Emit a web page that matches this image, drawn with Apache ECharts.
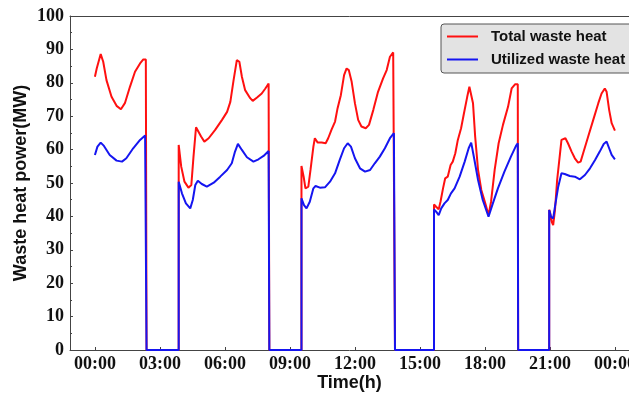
<!DOCTYPE html>
<html>
<head>
<meta charset="utf-8">
<script src="https://cdn.jsdelivr.net/npm/echarts@6/dist/echarts.min.js"></script>
<style>
  html, body { margin: 0; padding: 0; background: #fff; }
  #heat { width: 629px; height: 395px; }
</style>
</head>
<body>
<div id="heat"></div>
<script>
// time in minutes from 00:00, power in MW
var totalTime = [0, 5, 16, 23, 32, 46, 60, 72, 83, 97, 111, 125, 134, 141, 143,
    143, 232,
    232, 239, 248, 259, 267, 273, 280, 285, 294, 303, 315, 333, 352, 366, 375, 384, 393, 400, 407, 416, 430, 437, 449, 462, 472, 481, 483,
    483, 572,
    572, 578, 583, 591, 597, 605, 609, 617, 628, 639, 646, 655, 665, 672, 681, 690, 697, 703, 711, 720, 729, 738, 750, 759, 771, 784, 798, 808, 817, 826, 829, 831,
    831, 939,
    939, 945, 952, 957, 964, 970, 977, 985, 991, 998, 1005, 1014, 1022, 1031, 1037, 1042, 1047, 1053, 1061, 1070, 1081, 1090, 1097, 1107, 1118, 1130, 1144, 1154, 1164, 1171, 1172,
    1172, 1258,
    1258, 1260, 1265, 1269, 1274, 1280, 1288, 1292, 1297, 1303, 1310, 1320, 1329, 1338, 1345, 1352, 1366, 1380, 1394, 1403, 1412, 1417, 1424, 1431, 1440];
var totalValue = [81.8, 84.3, 88.6, 86.3, 80.8, 75.8, 73.1, 72.1, 73.9, 78.8, 83.3, 85.8, 87.0, 87.0, 87.0,
    0, 0,
    61.4, 54.9, 50.4, 48.6, 49.4, 57.9, 66.7, 66.4, 63.9, 62.4, 63.4, 65.9, 68.9, 71.3, 74.3, 80.8, 86.8, 86.3, 81.8, 77.8, 75.4, 74.6, 75.6, 76.8, 78.3, 79.8, 79.8,
    0, 0,
    55.1, 51.9, 48.4, 48.9, 53.9, 60.9, 63.4, 62.1, 62.1, 61.9, 63.4, 65.9, 68.4, 72.4, 76.3, 82.3, 84.3, 83.8, 80.3, 73.9, 68.9, 66.9, 66.4, 67.4, 71.9, 77.3, 81.3, 83.8, 87.8, 89.1, 89.1, 89.1,
    0, 0,
    43.6, 42.9, 42.1, 44.4, 48.4, 51.4, 51.9, 55.4, 56.4, 58.9, 62.9, 66.4, 70.9, 75.8, 78.8, 79.3, 73.9, 63.9, 53.9, 47.9, 43.9, 40.4, 44.4, 53.9, 61.9, 67.4, 72.8, 78.3, 79.6, 79.6, 79.6,
    0, 0,
    42.0, 41.4, 38.4, 37.4, 41.9, 50.9, 58.9, 62.9, 62.4, 63.4, 61.9, 59.4, 57.4, 56.1, 56.4, 58.9, 63.9, 68.9, 73.9, 76.8, 78.3, 77.3, 71.9, 67.9, 65.7];

var usedTime = [0, 7, 16, 25, 41, 60, 75, 87, 106, 125, 139, 143,
    143, 232,
    232, 241, 252, 264, 271, 278, 285, 296, 310, 329, 347, 366, 379, 388, 396, 407, 421, 439, 453, 467, 481, 483,
    483, 572,
    572, 579, 586, 595, 605, 611, 623, 637, 651, 665, 678, 690, 700, 709, 720, 734, 748, 762, 775, 789, 803, 817, 828, 831,
    831, 939,
    939, 945, 952, 959, 968, 977, 986, 996, 1010, 1024, 1035, 1042, 1051, 1061, 1074, 1090, 1102, 1116, 1134, 1152, 1166, 1171, 1172,
    1172, 1258,
    1258, 1263, 1269, 1274, 1283, 1292, 1301, 1315, 1329, 1343, 1357, 1371, 1385, 1398, 1409, 1417, 1424, 1431, 1440];
var usedValue = [58.4, 60.9, 62.1, 61.1, 58.4, 56.7, 56.4, 57.4, 60.4, 62.9, 64.2, 64.4,
    0, 0,
    50.4, 46.9, 43.9, 42.4, 44.9, 49.4, 50.7, 49.7, 48.9, 50.1, 51.9, 53.9, 55.9, 59.4, 61.7, 59.9, 57.7, 56.4, 57.1, 58.1, 59.6, 59.8,
    0, 0,
    45.4, 43.4, 42.4, 44.4, 48.4, 49.1, 48.6, 48.7, 50.4, 52.9, 56.9, 60.4, 61.9, 60.9, 57.4, 54.4, 53.4, 53.9, 55.9, 57.9, 60.4, 63.4, 64.9, 65.0,
    0, 0,
    42.1, 41.4, 40.4, 42.4, 43.9, 44.9, 46.9, 48.4, 51.9, 56.4, 60.4, 62.1, 56.9, 50.9, 44.9, 39.9, 43.9, 48.4, 53.4, 57.9, 61.1, 61.9, 61.9,
    0, 0,
    41.9, 39.9, 39.4, 42.9, 48.9, 52.9, 52.7, 52.1, 51.9, 51.1, 52.4, 54.4, 56.9, 59.4, 61.7, 62.4, 60.4, 58.4, 57.1];

var tickTimes = [0, 180, 360, 540, 720, 900, 1080, 1260, 1440];
var seriesNames = ['Total waste heat', 'Utilized waste heat'];

function pairs(ts, vs) {
    var out = [];
    for (var i = 0; i < ts.length; i++) {
        out.push([ts[i], vs[i]]);
    }
    return out;
}

function hhmm(m) {
    var h = Math.floor(m / 60) % 24;
    var mm = m % 60;
    return (h < 10 ? '0' : '') + h + ':' + (mm < 10 ? '0' : '') + mm;
}

var dom = document.getElementById('heat');
var heatChart = echarts.init(dom);

var serifBold = { fontFamily: 'Liberation Serif', fontWeight: 'bold', fontSize: 18, color: '#111' };
var sansBold = { fontFamily: 'Liberation Sans', fontWeight: 'bold', fontSize: 18, color: '#111' };

var heatOption = {
    animation: false,
    grid: { left: 70, right: 0, top: 16, bottom: 45, outerBoundsMode: 'none', containLabel: false },
    legend: {
        orient: 'vertical',
        left: 441,
        top: 24,
        padding: [5, 8, 6, 5],
        itemGap: 8,
        itemWidth: 31,
        itemHeight: 14,
        backgroundColor: '#e3e3e3',
        borderColor: '#555',
        borderWidth: 1,
        borderRadius: 3,
        data: seriesNames,
        itemStyle: { opacity: 0 },
        textStyle: { fontFamily: 'Liberation Sans', fontWeight: 'bold', fontSize: 15, color: '#111', padding: [0, 0, 0, 8] }
    },
    xAxis: [{
        type: 'value',
        min: -69,
        max: 1479,
        name: 'Time(h)',
        nameLocation: 'middle',
        nameGap: 24,
        nameMoveOverlap: false,
        nameTextStyle: sansBold,
        axisLine: { onZero: false, lineStyle: { color: '#444', width: 1 } },
        axisTick: { inside: true, length: 3, customValues: tickTimes, lineStyle: { color: '#444' } },
        axisLabel: Object.assign({ customValues: tickTimes, margin: 5, formatter: hhmm }, serifBold),
        splitLine: { show: false }
    }, {
        type: 'value',
        position: 'top',
        min: -69,
        max: 1479,
        axisLine: { show: true, onZero: false, lineStyle: { color: '#444', width: 1 } },
        axisTick: { show: false },
        axisLabel: { show: false },
        splitLine: { show: false }
    }],
    yAxis: {
        type: 'value',
        min: 0,
        max: 100,
        interval: 10,
        name: 'Waste heat power(MW)',
        nameLocation: 'middle',
        nameRotate: 90,
        nameGap: 40,
        nameMoveOverlap: false,
        nameTextStyle: sansBold,
        axisLine: { show: true, onZero: false, lineStyle: { color: '#444', width: 1 } },
        axisTick: { inside: true, length: 3, lineStyle: { color: '#444' } },
        minorTick: { show: true, splitNumber: 2, length: 2, lineStyle: { color: '#444' } },
        axisLabel: Object.assign({ margin: 6 }, serifBold),
        splitLine: { show: false }
    },
    series: [{
        name: seriesNames[0],
        type: 'line',
        showSymbol: false,
        symbol: 'none',
        data: pairs(totalTime, totalValue),
        lineStyle: { color: '#ff1010', width: 2 },
        itemStyle: { color: '#ff1010' }
    }, {
        name: seriesNames[1],
        type: 'line',
        showSymbol: false,
        symbol: 'none',
        data: pairs(usedTime, usedValue),
        lineStyle: { color: '#1515f0', width: 2 },
        itemStyle: { color: '#1515f0' }
    }]
};

heatChart.setOption(heatOption);
</script>
</body>
</html>
